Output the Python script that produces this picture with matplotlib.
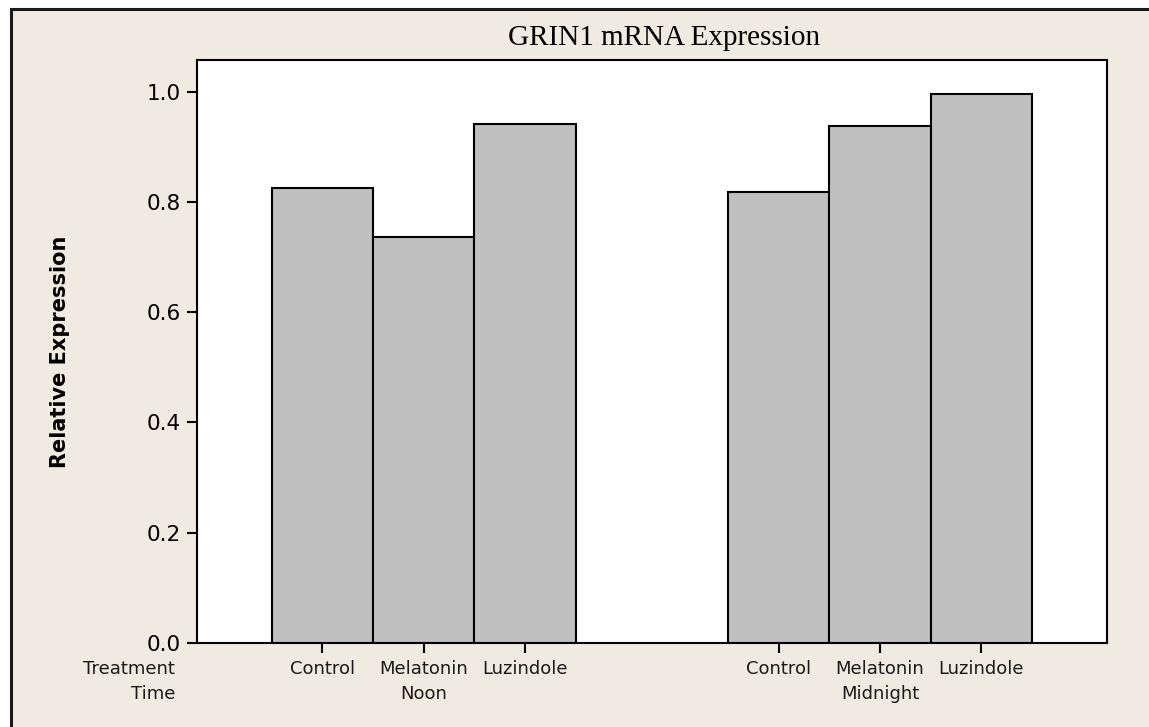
import matplotlib
matplotlib.use("Agg")
import matplotlib.pyplot as plt
from matplotlib.patches import Rectangle
from matplotlib.ticker import FormatStrFormatter

# Values
treatments = ["Control", "Melatonin", "Luzindole"]
times = ["Noon", "Midnight"]
noon_values = [0.826, 0.737, 0.941]
midnight_values = [0.818, 0.938, 0.996]
yticks = [0.0, 0.2, 0.4, 0.6, 0.8, 1.0]

W, H = 1149, 727
bg = "#EFEBE1"
lab_size = 13

fig = plt.figure(figsize=(W / 100, H / 100), dpi=100, facecolor="white")

# beige panel with a dark frame on the top and left edge
fig.patches.append(Rectangle((10.5 / W, -0.1), 1.2, 1 - 8.5 / H + 0.1,
                             transform=fig.transFigure, facecolor=bg,
                             edgecolor="#1a1a1a", linewidth=2.2, zorder=-5))

ax = fig.add_axes([196.7 / W, 1 - 643 / H, (1107 - 196.7) / W, (643 - 60) / H])
ax.set_facecolor("white")
ax.set_zorder(1)

group_gap = 4.5
positions = []
values = []
for g, vals in enumerate([noon_values, midnight_values]):
    for i, v in enumerate(vals):
        positions.append(g * group_gap + i)
        values.append(v)

ax.bar(positions, values, width=1.0, color="#C0C0C0", edgecolor="black",
       linewidth=1.5, zorder=2)

ax.set_xlim(-1.24, 7.74)
ax.set_ylim(0, 1.0575)
ax.set_yticks(yticks)
ax.yaxis.set_major_formatter(FormatStrFormatter("%.1f"))
ax.set_xticks(positions)
ax.set_xticklabels([])

for s in ax.spines.values():
    s.set_linewidth(1.5)
ax.tick_params(axis="both", direction="out", length=7.2, width=1.5)
ax.tick_params(axis="y", labelsize=15.5, pad=4)

# two-row category labels under the axis
for g, t in enumerate(times):
    for i, tr in enumerate(treatments):
        p = g * group_gap + i
        ax.annotate(tr, xy=(p, 0), xycoords=("data", "axes fraction"),
                    xytext=(0, -22.3), textcoords="offset points",
                    ha="center", va="baseline", fontsize=lab_size, color="#1a1a1a")
    ax.annotate(t, xy=(g * group_gap + 1, 0), xycoords=("data", "axes fraction"),
                xytext=(0, -40.3), textcoords="offset points",
                ha="center", va="baseline", fontsize=lab_size, color="#1a1a1a")

ax.annotate("Treatment", xy=(0, 0), xycoords="axes fraction",
            xytext=(-15.6, -22.3), textcoords="offset points",
            ha="right", va="baseline", fontsize=lab_size, color="#1a1a1a")
ax.annotate("Time", xy=(0, 0), xycoords="axes fraction",
            xytext=(-15.6, -40.3), textcoords="offset points",
            ha="right", va="baseline", fontsize=lab_size, color="#1a1a1a")

fig.text(664 / W, 1 - 45 / H, "GRIN1 mRNA Expression", ha="center",
         va="baseline", fontsize=21, family="Liberation Serif")
fig.text(60 / W, 1 - 352 / H, "Relative Expression", rotation=90,
         ha="center", va="center", fontsize=15, fontweight="bold")

fig.savefig("out.png", dpi=100, facecolor=fig.get_facecolor())
